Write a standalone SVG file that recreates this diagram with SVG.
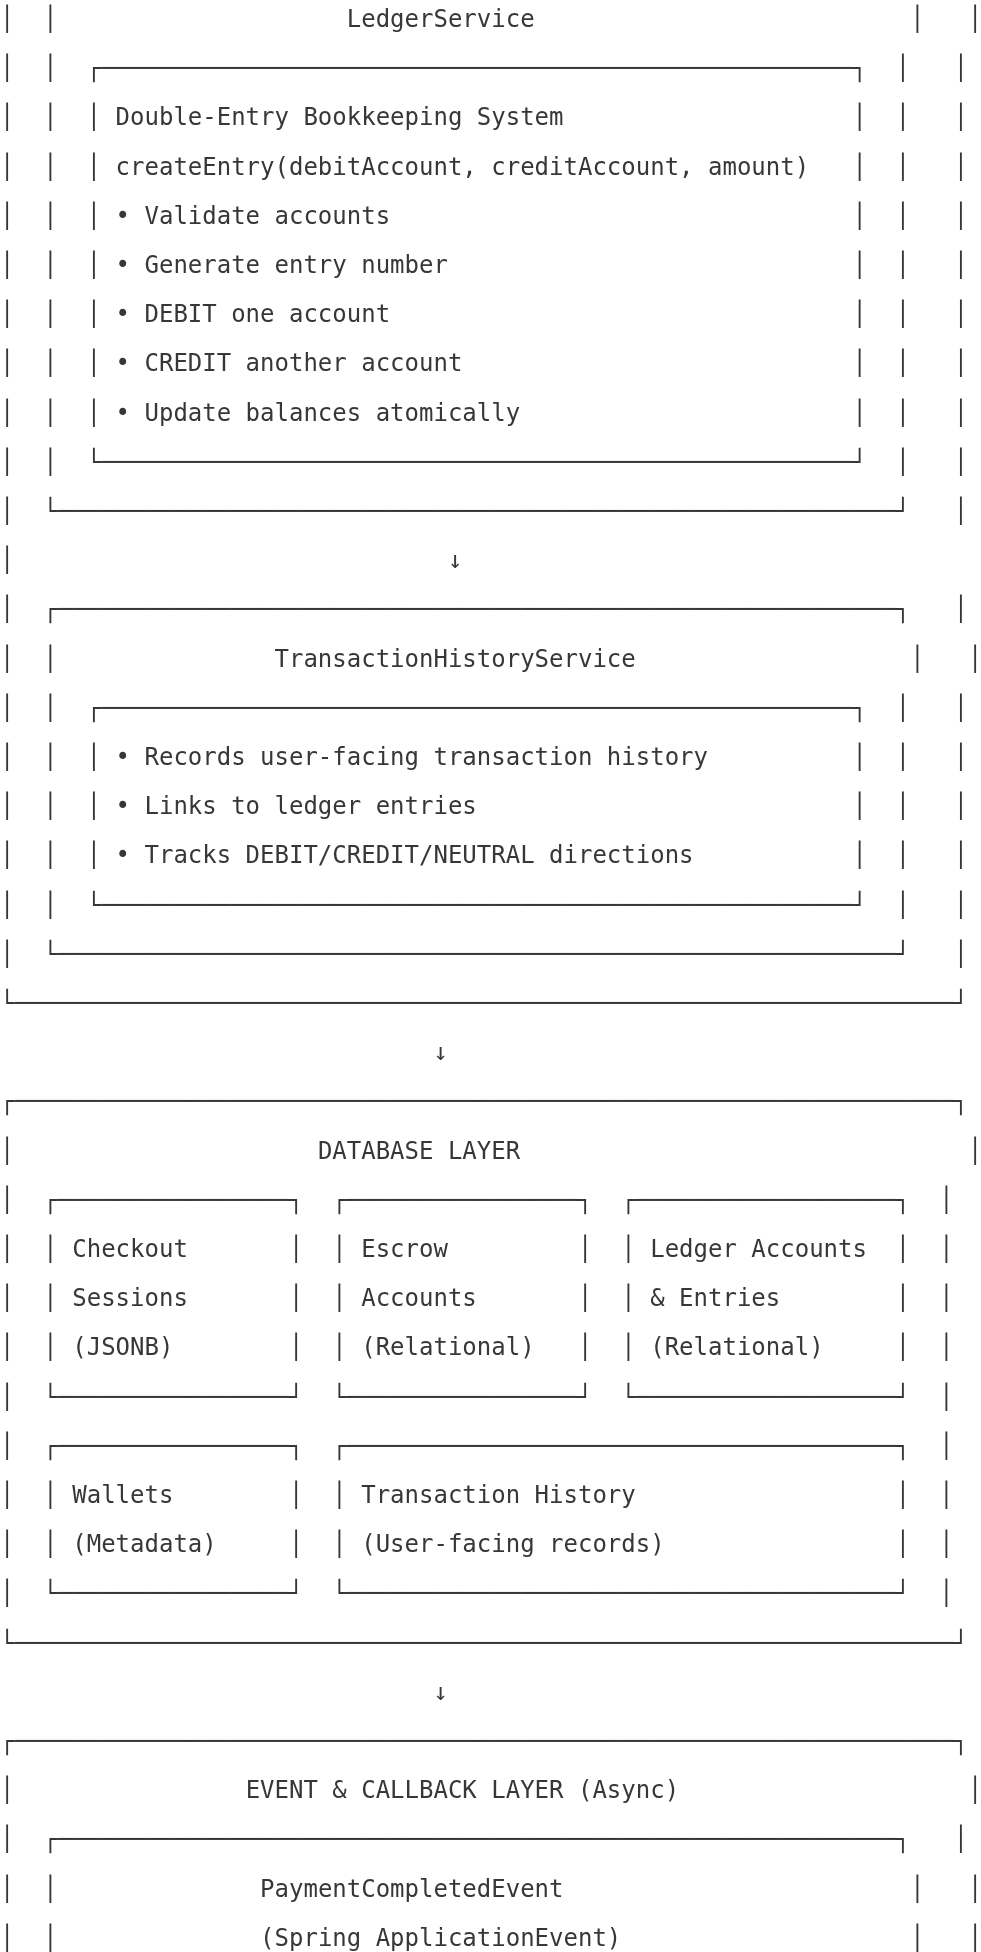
<svg xmlns="http://www.w3.org/2000/svg" width="981" height="1952" viewBox="0 0 981 1952">
<style>
.t{font-family:"DejaVu Sans Mono","Liberation Mono",monospace;font-size:24px;fill:#363636;white-space:pre}
</style>
<defs>
<text id="v" font-family="DejaVu Sans Mono, Liberation Mono, monospace" font-size="24" fill="#363636">│</text>
</defs>
<rect width="981" height="1952" fill="#ffffff"/>
<g id="diagram" opacity="0.995">
<g id="outer-services-box" class="t">
<use href="#v" x="0" y="27"/><use href="#v" x="0" y="76.2"/><use href="#v" x="0" y="125.4"/><use href="#v" x="0" y="174.6"/><use href="#v" x="0" y="223.8"/><use href="#v" x="0" y="273"/><use href="#v" x="0" y="322.2"/><use href="#v" x="0" y="371.4"/><use href="#v" x="0" y="420.6"/><use href="#v" x="0" y="469.8"/><use href="#v" x="0" y="519"/><use href="#v" x="0" y="568.2"/><use href="#v" x="0" y="617.4"/><use href="#v" x="0" y="666.6"/><use href="#v" x="0" y="715.8"/><use href="#v" x="0" y="765"/><use href="#v" x="0" y="814.2"/><use href="#v" x="0" y="863.4"/><use href="#v" x="0" y="912.6"/><use href="#v" x="0" y="961.8"/>
<use href="#v" x="968.08" y="27"/>
<use href="#v" x="953.63" y="76.2"/><use href="#v" x="953.63" y="125.4"/><use href="#v" x="953.63" y="174.6"/><use href="#v" x="953.63" y="223.8"/><use href="#v" x="953.63" y="273"/><use href="#v" x="953.63" y="322.2"/><use href="#v" x="953.63" y="371.4"/><use href="#v" x="953.63" y="420.6"/><use href="#v" x="953.63" y="469.8"/><use href="#v" x="953.63" y="519"/>
<use href="#v" x="953.63" y="617.4"/>
<use href="#v" x="968.08" y="666.6"/>
<use href="#v" x="953.63" y="715.8"/><use href="#v" x="953.63" y="765"/><use href="#v" x="953.63" y="814.2"/><use href="#v" x="953.63" y="863.4"/><use href="#v" x="953.63" y="912.6"/><use href="#v" x="953.63" y="961.8"/>
<text x="0" y="1011">└─────────────────────────────────────────────────────────────────┘</text>
</g>

<g id="ledger-service" class="t">
<text x="346.78" y="27">LedgerService</text>
<use href="#v" x="43.35" y="27"/><use href="#v" x="43.35" y="76.2"/><use href="#v" x="43.35" y="125.4"/><use href="#v" x="43.35" y="174.6"/><use href="#v" x="43.35" y="223.8"/><use href="#v" x="43.35" y="273"/><use href="#v" x="43.35" y="322.2"/><use href="#v" x="43.35" y="371.4"/><use href="#v" x="43.35" y="420.6"/><use href="#v" x="43.35" y="469.8"/>
<use href="#v" x="910.3" y="27"/>
<use href="#v" x="895.84" y="76.2"/><use href="#v" x="895.84" y="125.4"/><use href="#v" x="895.84" y="174.6"/><use href="#v" x="895.84" y="223.8"/><use href="#v" x="895.84" y="273"/><use href="#v" x="895.84" y="322.2"/><use href="#v" x="895.84" y="371.4"/><use href="#v" x="895.84" y="420.6"/><use href="#v" x="895.84" y="469.8"/>
<text x="43.35" y="519">└──────────────────────────────────────────────────────────┘</text>
</g>

<g id="double-entry-bookkeeping" class="t">
<text x="86.69" y="76.2">┌────────────────────────────────────────────────────┐</text>
<use href="#v" x="86.69" y="125.4"/><use href="#v" x="86.69" y="174.6"/><use href="#v" x="86.69" y="223.8"/><use href="#v" x="86.69" y="273"/><use href="#v" x="86.69" y="322.2"/><use href="#v" x="86.69" y="371.4"/><use href="#v" x="86.69" y="420.6"/>
<use href="#v" x="852.49" y="125.4"/><use href="#v" x="852.49" y="174.6"/><use href="#v" x="852.49" y="223.8"/><use href="#v" x="852.49" y="273"/><use href="#v" x="852.49" y="322.2"/><use href="#v" x="852.49" y="371.4"/><use href="#v" x="852.49" y="420.6"/>
<text x="115.59" y="125.4">Double-Entry Bookkeeping System</text>
<text x="115.59" y="174.6">createEntry(debitAccount, creditAccount, amount)</text>
<text x="115.59" y="223.8">• Validate accounts</text>
<text x="115.59" y="273">• Generate entry number</text>
<text x="115.59" y="322.2">• DEBIT one account</text>
<text x="115.59" y="371.4">• CREDIT another account</text>
<text x="115.59" y="420.6">• Update balances atomically</text>
<text x="86.69" y="469.8">└────────────────────────────────────────────────────┘</text>
</g>

<g id="connectors" class="t">
<text x="447.92" y="568.2">↓</text>
<text x="433.47" y="1060.2">↓</text>
<text x="433.47" y="1699.8">↓</text>
</g>

<g id="transaction-history-service" class="t">
<text x="43.35" y="617.4">┌──────────────────────────────────────────────────────────┐</text>
<text x="274.53" y="666.6">TransactionHistoryService</text>
<use href="#v" x="43.35" y="666.6"/><use href="#v" x="43.35" y="715.8"/><use href="#v" x="43.35" y="765"/><use href="#v" x="43.35" y="814.2"/><use href="#v" x="43.35" y="863.4"/><use href="#v" x="43.35" y="912.6"/>
<use href="#v" x="910.3" y="666.6"/>
<use href="#v" x="895.84" y="715.8"/><use href="#v" x="895.84" y="765"/><use href="#v" x="895.84" y="814.2"/><use href="#v" x="895.84" y="863.4"/><use href="#v" x="895.84" y="912.6"/>
<text x="43.35" y="961.8">└──────────────────────────────────────────────────────────┘</text>
</g>

<g id="transaction-history-details" class="t">
<text x="86.69" y="715.8">┌────────────────────────────────────────────────────┐</text>
<use href="#v" x="86.69" y="765"/><use href="#v" x="86.69" y="814.2"/><use href="#v" x="86.69" y="863.4"/>
<use href="#v" x="852.49" y="765"/><use href="#v" x="852.49" y="814.2"/><use href="#v" x="852.49" y="863.4"/>
<text x="115.59" y="765">• Records user-facing transaction history</text>
<text x="115.59" y="814.2">• Links to ledger entries</text>
<text x="115.59" y="863.4">• Tracks DEBIT/CREDIT/NEUTRAL directions</text>
<text x="86.69" y="912.6">└────────────────────────────────────────────────────┘</text>
</g>

<g id="database-layer" class="t">
<text x="0" y="1109.4">┌─────────────────────────────────────────────────────────────────┐</text>
<text x="317.88" y="1158.6">DATABASE LAYER</text>
<use href="#v" x="0" y="1158.6"/><use href="#v" x="0" y="1207.8"/><use href="#v" x="0" y="1257"/><use href="#v" x="0" y="1306.2"/><use href="#v" x="0" y="1355.4"/><use href="#v" x="0" y="1404.6"/><use href="#v" x="0" y="1453.8"/><use href="#v" x="0" y="1503"/><use href="#v" x="0" y="1552.2"/><use href="#v" x="0" y="1601.4"/>
<use href="#v" x="968.08" y="1158.6"/>
<use href="#v" x="939.19" y="1207.8"/><use href="#v" x="939.19" y="1257"/><use href="#v" x="939.19" y="1306.2"/><use href="#v" x="939.19" y="1355.4"/><use href="#v" x="939.19" y="1404.6"/><use href="#v" x="939.19" y="1453.8"/><use href="#v" x="939.19" y="1503"/><use href="#v" x="939.19" y="1552.2"/><use href="#v" x="939.19" y="1601.4"/>
<text x="0" y="1650.6">└─────────────────────────────────────────────────────────────────┘</text>
</g>

<g id="db-checkout-sessions" class="t">
<text x="43.35" y="1207.8">┌────────────────┐</text>
<use href="#v" x="43.35" y="1257"/><use href="#v" x="43.35" y="1306.2"/><use href="#v" x="43.35" y="1355.4"/>
<use href="#v" x="288.98" y="1257"/><use href="#v" x="288.98" y="1306.2"/><use href="#v" x="288.98" y="1355.4"/>
<text x="72.25" y="1257">Checkout</text>
<text x="72.25" y="1306.2">Sessions</text>
<text x="72.25" y="1355.4">(JSONB)</text>
<text x="43.35" y="1404.6">└────────────────┘</text>
</g>

<g id="db-escrow-accounts" class="t">
<text x="332.33" y="1207.8">┌────────────────┐</text>
<use href="#v" x="332.33" y="1257"/><use href="#v" x="332.33" y="1306.2"/><use href="#v" x="332.33" y="1355.4"/>
<use href="#v" x="577.96" y="1257"/><use href="#v" x="577.96" y="1306.2"/><use href="#v" x="577.96" y="1355.4"/>
<text x="361.23" y="1257">Escrow</text>
<text x="361.23" y="1306.2">Accounts</text>
<text x="361.23" y="1355.4">(Relational)</text>
<text x="332.33" y="1404.6">└────────────────┘</text>
</g>

<g id="db-ledger-accounts" class="t">
<text x="621.31" y="1207.8">┌──────────────────┐</text>
<use href="#v" x="621.31" y="1257"/><use href="#v" x="621.31" y="1306.2"/><use href="#v" x="621.31" y="1355.4"/>
<use href="#v" x="895.84" y="1257"/><use href="#v" x="895.84" y="1306.2"/><use href="#v" x="895.84" y="1355.4"/>
<text x="650.21" y="1257">Ledger Accounts</text>
<text x="650.21" y="1306.2">&amp; Entries</text>
<text x="650.21" y="1355.4">(Relational)</text>
<text x="621.31" y="1404.6">└──────────────────┘</text>
</g>

<g id="db-wallets" class="t">
<text x="43.35" y="1453.8">┌────────────────┐</text>
<use href="#v" x="43.35" y="1503"/><use href="#v" x="43.35" y="1552.2"/>
<use href="#v" x="288.98" y="1503"/><use href="#v" x="288.98" y="1552.2"/>
<text x="72.25" y="1503">Wallets</text>
<text x="72.25" y="1552.2">(Metadata)</text>
<text x="43.35" y="1601.4">└────────────────┘</text>
</g>

<g id="db-transaction-history" class="t">
<text x="332.33" y="1453.8">┌──────────────────────────────────────┐</text>
<use href="#v" x="332.33" y="1503"/><use href="#v" x="332.33" y="1552.2"/>
<use href="#v" x="895.84" y="1503"/><use href="#v" x="895.84" y="1552.2"/>
<text x="361.23" y="1503">Transaction History</text>
<text x="361.23" y="1552.2">(User-facing records)</text>
<text x="332.33" y="1601.4">└──────────────────────────────────────┘</text>
</g>

<g id="event-callback-layer" class="t">
<text x="0" y="1749">┌─────────────────────────────────────────────────────────────────┐</text>
<text x="245.63" y="1798.2">EVENT &amp; CALLBACK LAYER (Async)</text>
<use href="#v" x="0" y="1798.2"/><use href="#v" x="0" y="1847.4"/><use href="#v" x="0" y="1896.6"/><use href="#v" x="0" y="1945.8"/>
<use href="#v" x="968.08" y="1798.2"/>
<use href="#v" x="953.63" y="1847.4"/>
<use href="#v" x="968.08" y="1896.6"/><use href="#v" x="968.08" y="1945.8"/>
</g>

<g id="payment-completed-event" class="t">
<text x="43.35" y="1847.4">┌──────────────────────────────────────────────────────────┐</text>
<use href="#v" x="43.35" y="1896.6"/><use href="#v" x="43.35" y="1945.8"/>
<use href="#v" x="910.3" y="1896.6"/><use href="#v" x="910.3" y="1945.8"/>
<text x="260.08" y="1896.6">PaymentCompletedEvent</text>
<text x="260.08" y="1945.8">(Spring ApplicationEvent)</text>
</g>
</g>
</svg>
